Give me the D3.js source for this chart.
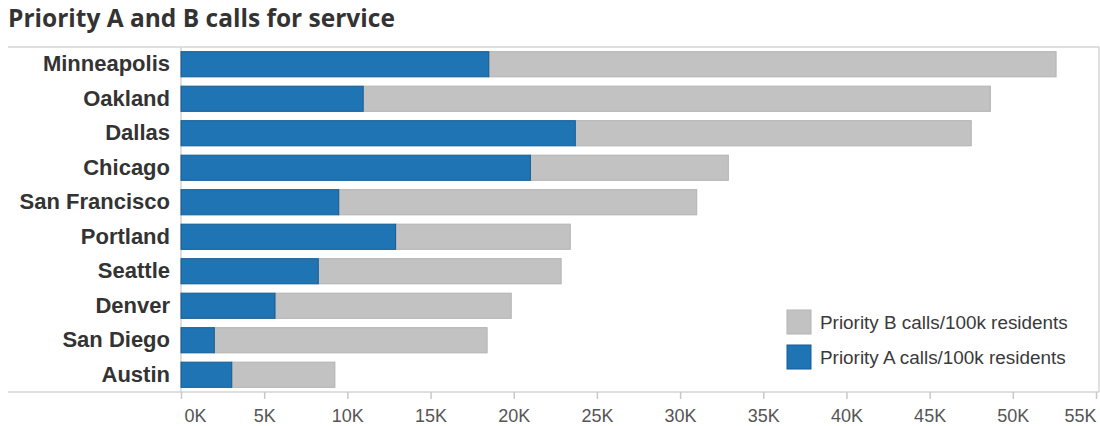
<!DOCTYPE html>
<html lang="en">
<head>
  <meta charset="UTF-8">
  <title>Priority A and B calls for service</title>
  <script src="https://d3js.org/d3.v7.min.js"></script>
  <style>
    body { margin: 0; background: #fff; font-family: 'Liberation Sans', Arial, sans-serif; }
    .title { font-family: 'Open Sans', sans-serif; font-weight: 700; fill: #333; }
    .city text { font-weight: 700; fill: #333; font-size: 22px; }
    .xaxis text { fill: #555; font-size: 18px; }
  </style>
</head>
<body>
  <div id="chart"></div>
  <script>
    const cities = ["Minneapolis", "Oakland", "Dallas", "Chicago", "San Francisco",
                    "Portland", "Seattle", "Denver", "San Diego", "Austin"];
    const priorityA = [18500, 10950, 23700, 21000, 9480, 12900, 8250, 5650, 2000, 3050];
    const priorityB = [34100, 37700, 23800, 11900, 21520, 10500, 14600, 14200, 16400, 6200];
    const xTicks = [0, 5000, 10000, 15000, 20000, 25000, 30000, 35000, 40000, 45000, 50000, 55000];
    const legendLabels = ["Priority B calls/100k residents", "Priority A calls/100k residents"];

    const W = 1100, H = 426;
    const plot = { left: 181, right: 1096, top: 47, bottom: 392 };

    const svg = d3.select("#chart").append("svg")
      .attr("width", W).attr("height", H);

    svg.append("text").attr("class", "title")
      .attr("x", 8).attr("y", 27)
      .style("font-size", "24.5px")
      .text("Priority A and B calls for service");

    const x = d3.scaleLinear().domain([0, 55000]).range([plot.left, plot.right]);
    const y = d3.scaleBand().domain(cities).range([plot.top, plot.bottom])
      .paddingInner(0.27).paddingOuter(0.135);

    // frame
    const frame = svg.append("g").attr("stroke", "#d4d4d4").attr("stroke-width", 1.5);
    frame.append("line").attr("x1", 8).attr("x2", 1099).attr("y1", plot.top).attr("y2", plot.top);
    frame.append("line").attr("x1", 1099).attr("x2", 1099).attr("y1", plot.top).attr("y2", plot.bottom);
    frame.append("line").attr("x1", plot.left).attr("x2", plot.left).attr("y1", plot.top).attr("y2", plot.bottom);

    const rows = cities.map((c, i) => ({ city: c, a: priorityA[i], b: priorityB[i] }));

    // Priority B (stacked after A)
    svg.append("g").selectAll("rect").data(rows).enter().append("rect")
      .attr("x", d => x(d.a))
      .attr("y", d => y(d.city))
      .attr("width", d => x(d.a + d.b) - x(d.a))
      .attr("height", y.bandwidth())
      .attr("fill", "#c2c2c2")
      .attr("stroke", "#b3b3b3").attr("stroke-width", 1);

    // Priority A
    svg.append("g").selectAll("rect").data(rows).enter().append("rect")
      .attr("x", x(0))
      .attr("y", d => y(d.city))
      .attr("width", d => x(d.a) - x(0))
      .attr("height", y.bandwidth())
      .attr("fill", "#1f75b3")
      .attr("stroke", "#165b94").attr("stroke-width", 1);

    // city labels
    const yAxis = svg.append("g").attr("class", "city")
      .attr("transform", `translate(${plot.left},0)`)
      .call(d3.axisLeft(y).tickSize(0).tickPadding(11));
    yAxis.select(".domain").remove();

    // x axis
    const xAxis = svg.append("g").attr("class", "xaxis")
      .attr("transform", `translate(0,${plot.bottom})`)
      .call(d3.axisBottom(x).tickValues(xTicks).tickSize(7).tickPadding(10)
        .tickFormat(d => (d / 1000) + "K"));
    xAxis.select(".domain").attr("d", "M8,0H1099").attr("stroke", "#d4d4d4").attr("stroke-width", 1.5);
    xAxis.selectAll(".tick line").attr("stroke", "#c8c8c8").attr("stroke-width", 1.5);
    xAxis.selectAll(".tick text").filter(d => d === xTicks[0]).attr("text-anchor", "start").attr("dx", 3);
    xAxis.selectAll(".tick text").filter(d => d === xTicks[xTicks.length - 1]).attr("text-anchor", "end");

    // legend
    const legendColors = [["#c2c2c2", "#b3b3b3"], ["#1f75b3", "#165b94"]];
    const legend = svg.append("g").attr("transform", "translate(787,310)");
    legendLabels.forEach((lab, i) => {
      const g = legend.append("g").attr("transform", `translate(0,${i * 35})`);
      g.append("rect").attr("width", 24).attr("height", 24)
        .attr("fill", legendColors[i][0]).attr("stroke", legendColors[i][1]);
      g.append("text").attr("x", 33).attr("y", 12).attr("dy", "0.35em")
        .style("font-size", "18.9px").style("fill", "#3a3a3a").text(lab);
    });
  </script>
</body>
</html>
